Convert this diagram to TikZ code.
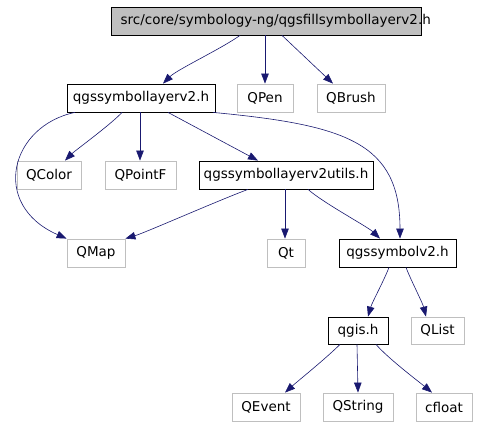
\documentclass[tikz,border=0pt]{standalone}
\usepackage{fontspec}
\setmainfont{DejaVu Sans}
\usetikzlibrary{arrows.meta}
\definecolor{edgeblue}{HTML}{191970}
\definecolor{boxgray}{HTML}{BFBFBF}
\begin{document}
\begin{tikzpicture}[x=1pt,y=-1pt,
  every node/.style={font=\fontsize{13.5}{15}\selectfont, inner sep=0pt, minimum height=28pt, anchor=center},
  hdr/.style={draw=black, line width=0.8pt},
  ext/.style={draw=boxgray, line width=0.8pt},
  dep/.style={draw=edgeblue, line width=0.6pt, -{Triangle[length=10pt,width=7.5pt]}}]
\useasboundingbox (0,0) rectangle (477,427);
% nodes
\node[hdr, fill=boxgray, minimum width=310pt] (top) at (266,21)
  {\hspace*{9.7pt}\makebox[300.3pt][l]{src/core/symbology-ng/qgsfillsymbollayerv2.h}};
\node[hdr, minimum width=148pt] (sl) at (141,98) {qgssymbollayerv2.h};
\node[ext, minimum width=56pt] (qpen) at (265,98) {QPen};
\node[ext, minimum width=68pt] (qbrush) at (351,98) {QBrush};
\node[ext, minimum width=64pt] (qcolor) at (49,175) {QColor};
\node[ext, minimum width=71pt] (qpointf) at (140.5,175) {QPointF};
\node[hdr, minimum width=174pt] (utils) at (286,175) {qgssymbollayerv2utils.h};
\node[ext, minimum width=58pt] (qmap) at (96,253) {QMap};
\node[ext, minimum width=38pt] (qt) at (286,253) {Qt};
\node[hdr, minimum width=117pt] (symv2) at (397.5,253) {qgssymbolv2.h};
\node[hdr, minimum width=60pt, minimum height=27pt] (qgis) at (358,330.5) {qgis.h};
\node[ext, minimum width=53pt, minimum height=27pt] (qlist) at (437.5,330.5) {QList};
\node[ext, minimum width=68pt] (qevent) at (266,407) {QEvent};
\node[ext, minimum width=70pt] (qstring) at (358,407) {QString};
\node[ext, minimum width=56pt] (cfloat) at (444,407) {cfloat};
% edges
\draw[dep] ([xshift=-26pt]top.south) .. controls ([xshift=-44pt,yshift=-13pt]top.south) and ([xshift=36pt,yshift=14pt]sl.north) .. ([xshift=22pt]sl.north);
\draw[dep] ([xshift=-1pt]top.south) -- (qpen.north);
\draw[dep] ([xshift=16pt]top.south) -- ([xshift=-18pt]qbrush.north);
\draw[dep] ([xshift=-19pt]sl.south) .. controls ([xshift=-30pt,yshift=-12pt]sl.south) and ([xshift=26pt,yshift=10pt]qcolor.north) .. ([xshift=16pt]qcolor.north);
\draw[dep] ([xshift=-1pt]sl.south) -- ([xshift=-0.5pt]qpointf.north);
\draw[dep] ([xshift=-66pt]sl.south) .. controls (10,126) and (-10,205) .. (qmap.north west);
\draw[dep] ([xshift=27pt]sl.south) -- ([xshift=-28pt]utils.north);
\draw[dep] ([xshift=72pt]sl.south) .. controls (345,125) and (400,142) .. ([xshift=2.5pt]symv2.north);
\draw[dep] ([xshift=-38pt]utils.south) .. controls ([xshift=-70pt,yshift=-12pt]utils.south) and ([xshift=20pt,yshift=6pt]qmap.north east) .. (qmap.north east);
\draw[dep] ([xshift=-1pt]utils.south) -- ([xshift=-1pt]qt.north);
\draw[dep] ([xshift=22pt]utils.south) .. controls ([xshift=38pt,yshift=-14pt]utils.south) and ([xshift=-30pt,yshift=12pt]symv2.north) .. ([xshift=-17.5pt]symv2.north);
\draw[dep] ([xshift=-8.5pt]symv2.south) .. controls ([xshift=-13pt,yshift=-12pt]symv2.south) and ([xshift=14pt,yshift=14pt]qgis.north) .. ([xshift=10pt]qgis.north);
\draw[dep] ([xshift=8.5pt]symv2.south) .. controls ([xshift=13pt,yshift=-12pt]symv2.south) and ([xshift=-15pt,yshift=14pt]qlist.north) .. ([xshift=-11.5pt]qlist.north);
\draw[dep] ([xshift=-18pt]qgis.south) .. controls ([xshift=-32pt,yshift=-14pt]qgis.south) and ([xshift=30pt,yshift=10pt]qevent.north) .. ([xshift=19pt]qevent.north);
\draw[dep] ([xshift=-1pt]qgis.south) -- (qstring.north);
\draw[dep] ([xshift=18pt]qgis.south) .. controls ([xshift=30pt,yshift=-14pt]qgis.south) and ([xshift=-24pt,yshift=10pt]cfloat.north) .. ([xshift=-12pt]cfloat.north);
\end{tikzpicture}
\end{document}
